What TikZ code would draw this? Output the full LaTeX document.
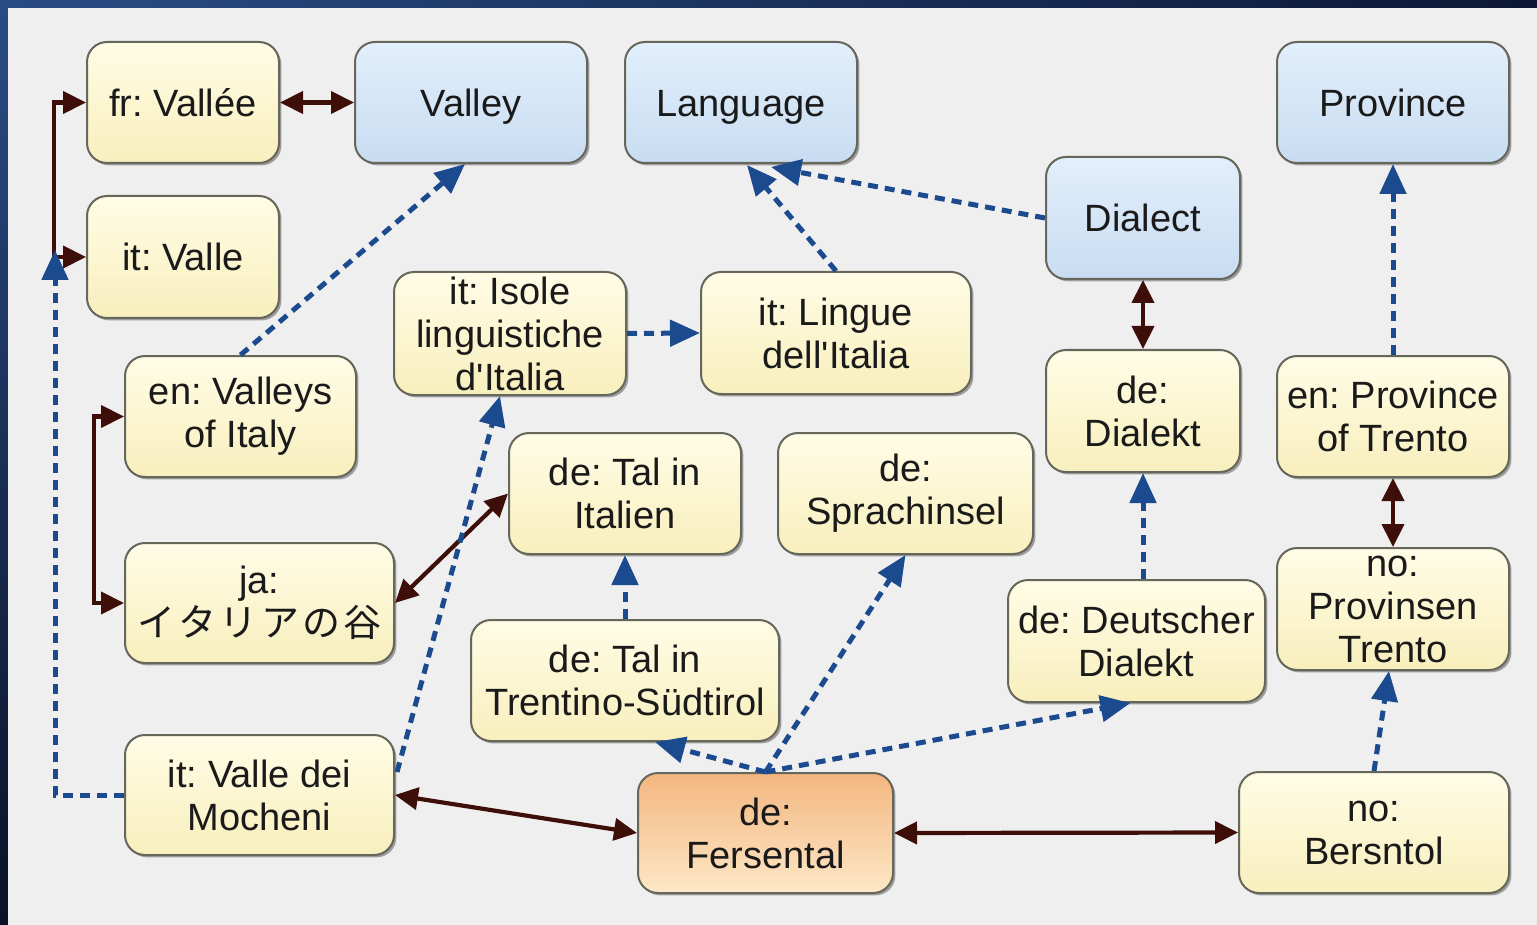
\documentclass[tikz,border=0pt]{standalone}
\usepackage{fontspec}
\setmainfont{Liberation Sans}
\newfontfamily\jafont{Noto Sans CJK JP}
\usetikzlibrary{arrows.meta,shadows,calc,shadings}
\definecolor{bggray}{HTML}{EFEFEF}
\definecolor{boxline}{HTML}{66665A}
\definecolor{textc}{HTML}{1A1A1A}
\definecolor{ytop}{HTML}{FFFCE6}
\definecolor{ybot}{HTML}{F8EFBD}
\definecolor{btop}{HTML}{E2EFFC}
\definecolor{bbot}{HTML}{C8DCF1}
\definecolor{otop}{HTML}{F3B680}
\definecolor{obot}{HTML}{FDE8C6}
\definecolor{isacol}{HTML}{1C4A8E}
\definecolor{eqcol}{HTML}{3D0F08}
\definecolor{frameA}{HTML}{2A4C85}
\definecolor{frameB}{HTML}{0C1835}
\definecolor{frameC}{HTML}{0A1226}
\definecolor{frameD}{HTML}{050A16}
\newcommand\straightq{\XeTeXglyph\XeTeXcharglyph"0027\relax}
\frenchspacing
\begin{document}
\begin{tikzpicture}[x=0.5pt,y=-0.5pt,
  box/.style={draw=boxline, line width=1pt, rounded corners=10pt, align=center,
    inner sep=0pt, font=\fontsize{19}{21.5}\selectfont, text=textc,
    drop shadow={shadow xshift=1.2pt, shadow yshift=-1.2pt, opacity=0.5, fill=black!70}},
  ybox/.style={box, top color=ytop, bottom color=ybot},
  bbox/.style={box, top color=btop, bottom color=bbot},
  obox/.style={box, top color=otop, bottom color=obot},
  oneline/.style={text height=13.6pt, text depth=0pt},
  isa/.style={draw=isacol, line width=2.5pt, dash pattern=on 5pt off 3.5pt,
    -{Triangle[length=15pt,width=13pt]}},
  eq/.style={draw=eqcol, line width=2.1pt,
    {Triangle[length=11.5pt,width=11pt]}-{Triangle[length=11.5pt,width=11pt]}},
]
\useasboundingbox (0,0) rectangle (1537,925);
\shade[upper left=frameA, upper right=frameB, lower left=frameC, lower right=frameD] (0,0) rectangle (1537,925);
\fill[bggray] (8,8) rectangle (1537,925);

% nodes
\node[ybox, oneline, minimum width=96pt, minimum height=60.5pt] (frvallee) at (183,102.5) {fr: Vallée};
\node[bbox, oneline, minimum width=116pt, minimum height=60.5pt] (valley) at (471,102.5) {Valley};
\node[bbox, oneline, minimum width=116pt, minimum height=60.5pt] (language) at (741,102.5) {Language};
\node[bbox, oneline, minimum width=116pt, minimum height=60.5pt] (province) at (1393,102.5) {Province};
\node[bbox, oneline, minimum width=97pt, minimum height=61pt] (dialect) at (1143,218) {Dialect};
\node[ybox, oneline, minimum width=96pt, minimum height=61pt] (itvalle) at (183,257) {it: Valle};
\node[ybox, minimum width=116pt, minimum height=61.5pt] (isole) at (510,333.5) {it: Isole\\linguistiche\\d\straightq Italia};
\node[ybox, minimum width=135pt, minimum height=61pt] (lingue) at (836,333) {it: Lingue\\dell\straightq Italia};
\node[ybox, minimum width=97pt, minimum height=61pt] (dialekt) at (1143,411) {de:\\Dialekt};
\node[ybox, minimum width=116pt, minimum height=60.5pt] (provtrento) at (1393,416.5) {en: Province\\of Trento};
\node[ybox, minimum width=115.5pt, minimum height=60.5pt] (valleys) at (240.5,416.5) {en: Valleys\\of Italy};
\node[ybox, minimum width=116pt, minimum height=60.5pt] (talitalien) at (625,493.5) {de: Tal in\\Italien};
\node[ybox, minimum width=127.5pt, minimum height=60.5pt] (sprachinsel) at (905.5,493.5) {de:\\Sprachinsel};
\node[ybox, minimum width=134.5pt, minimum height=60pt] (ja) at (259.5,603) {ja:\\{\jafont イ\hspace{1.6pt}タ\hspace{1.6pt}リ\hspace{1.6pt}ア\hspace{1.6pt}の\hspace{1.6pt}谷}};
\node[ybox, minimum width=128.5pt, minimum height=61pt] (deutscher) at (1136.5,641) {de: Deutscher\\Dialekt};
\node[ybox, minimum width=116pt, minimum height=61pt] (provinsen) at (1393,609) {no:\\Provinsen\\Trento};
\node[ybox, minimum width=154pt, minimum height=60.5pt] (taltrentino) at (625,680.5) {de: Tal in\\Trentino-Südtirol};
\node[ybox, minimum width=134.5pt, minimum height=60pt] (mocheni) at (259.5,795) {it: Valle dei\\Mocheni};
\node[obox, minimum width=127.5pt, minimum height=60pt] (fersental) at (765.5,833) {de:\\Fersental};
\node[ybox, minimum width=135pt, minimum height=60.5pt] (bersntol) at (1374,832.5) {no:\\Bersntol};

% connectors
\draw[eq] (frvallee.east) -- (valley.west);
\draw[eq] (frvallee.west) -- ++(-32,0) |- (itvalle.west);
\coordinate (vtip) at (55,250);
\draw[isa] (mocheni.west) -| (vtip);
\draw[isa] (valleys.north) -- ($(valley.south)+(-6,0)$);
\draw[eq] (valleys.west) -- ++(-30,0) |- (ja.west);
\draw[eq] (ja.east) -- (talitalien.west);
\draw[isa] ($(mocheni.north east)+(2,38)$) -- ($(isole.south)+(-10,0)$);
\draw[isa] (isole.east) -- (lingue.west);
\draw[isa] (lingue.north) -- ($(language.south)+(6,1)$);
\draw[isa] (dialect.west) -- ($(language.south)+(30,3)$);
\draw[eq] (dialect.south) -- (dialekt.north);
\draw[isa] (dialekt.south |- deutscher.north) -- (dialekt.south);
\draw[isa] (fersental.north) -- ($(taltrentino.south)+(30,0)$);
\draw[isa] (fersental.north) -- (sprachinsel.south);
\draw[isa] (fersental.north) -- ($(deutscher.south)+(-6,0)$);
\draw[isa] (taltrentino.north) -- (talitalien.south);
\draw[eq] (mocheni.east) -- (fersental.west);
\draw[eq] (fersental.east) -- (bersntol.west);
\draw[isa] (bersntol.north) -- ($(provinsen.south)+(-4,0)$);
\draw[isa] (provtrento.north) -- (province.south);
\draw[eq] (provtrento.south) -- (provinsen.north);
\end{tikzpicture}
\end{document}
